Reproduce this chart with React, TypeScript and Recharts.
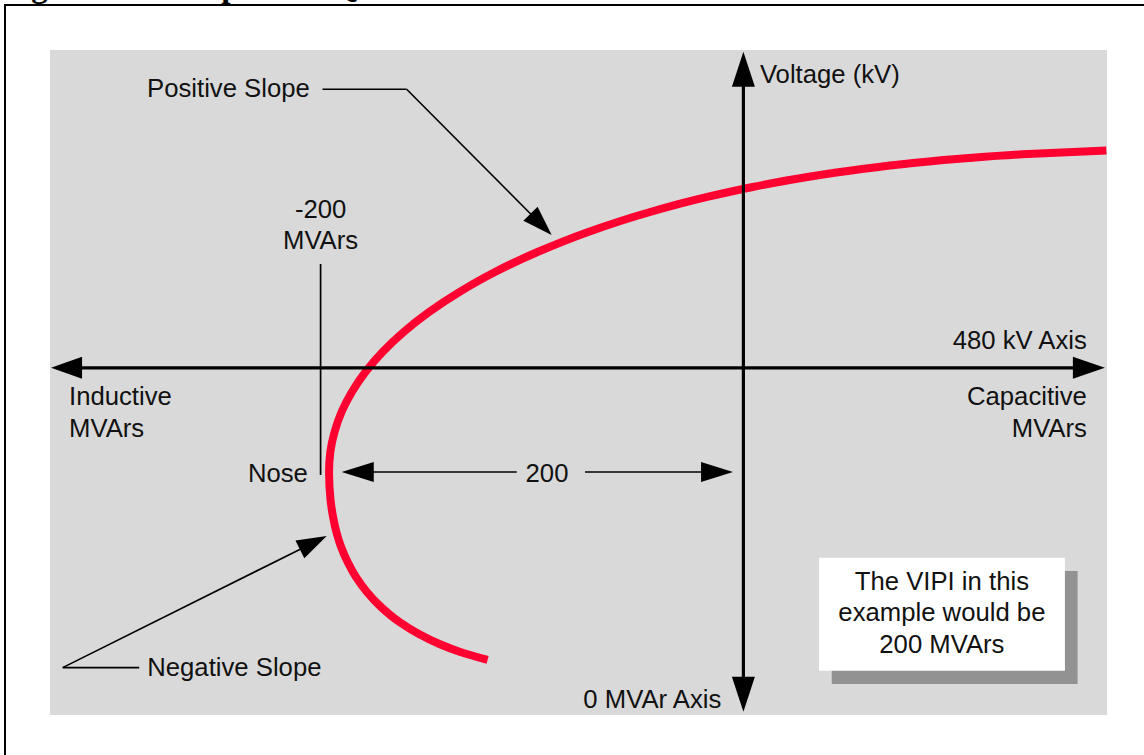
import React from 'react';
import { LineChart, Line, XAxis, YAxis, ReferenceLine, ReferenceArea, ReferenceDot } from 'recharts';

// QV curve, ordered from the upper (capacitive) end, through the nose, down to the lower end
const curveMvar = [171.7, 134.7, 106.4, 80.2, 56.1, 30.3, 4.4, -17.1, -44.1, -73.4, -97.4, -117.5, -134.4, -148.7, -160.7, -170.7, -178.8, -185.2, -190.1, -193.4, -195.4, -196.0, -195.3, -194.1, -192.4, -190.3, -187.2, -183.3, -178.1, -171.4, -162.7, -153.5, -143.8, -133.9, -121.0];
const curveKv = [643.4, 640.8, 637.8, 634.0, 629.5, 623.5, 616.0, 608.5, 597.2, 582.2, 567.1, 552.1, 537.0, 522.0, 507.0, 491.9, 476.9, 461.9, 446.8, 431.8, 416.7, 401.7, 380.7, 367.9, 355.8, 345.3, 334.0, 322.8, 311.5, 300.2, 288.9, 279.9, 272.4, 266.4, 260.4];

const mvarDomain = [-328, 172];
const kvDomain = [219, 719];
const baseKv = 480;
const noseMvar = -200;
const vipi = 200;

const data = curveMvar.map((m, i) => ({ mvar: m, kv: curveKv[i] }));

const FONT = "'Liberation Sans', Arial, Helvetica, sans-serif";

function arrowShape(sw: number, start?: [number, number], end?: [number, number]) {
  return (p: any) => {
    const { x1, y1, x2, y2 } = p;
    const dx = x2 - x1;
    const dy = y2 - y1;
    const len = Math.hypot(dx, dy) || 1;
    const ux = dx / len;
    const uy = dy / len;
    const nx = -uy;
    const ny = ux;
    let sx = x1, sy = y1, ex = x2, ey = y2;
    const heads: any[] = [];
    if (start) {
      const [L, H] = start;
      const bx = x1 + ux * L, by = y1 + uy * L;
      heads.push(<polygon key="s" points={`${x1},${y1} ${bx + nx * H},${by + ny * H} ${bx - nx * H},${by - ny * H}`} fill="#000" />);
      sx = bx - ux; sy = by - uy;
    }
    if (end) {
      const [L, H] = end;
      const bx = x2 - ux * L, by = y2 - uy * L;
      heads.push(<polygon key="e" points={`${x2},${y2} ${bx + nx * H},${by + ny * H} ${bx - nx * H},${by - ny * H}`} fill="#000" />);
      ex = bx + ux; ey = by + uy;
    }
    return (
      <g>
        <line x1={sx} y1={sy} x2={ex} y2={ey} stroke="#000" strokeWidth={sw} />
        {heads}
      </g>
    );
  };
}

function textShape(lines: string[], anchor: 'start' | 'middle' | 'end', lh = 31.5) {
  return (p: any) => (
    <text x={p.cx} y={p.cy} textAnchor={anchor} fontFamily={FONT} fontSize={25.7} fill="#111">
      {lines.map((l, i) => (
        <tspan key={i} x={p.cx} dy={i === 0 ? 0 : lh}>{l}</tspan>
      ))}
    </text>
  );
}

const captionShape = (p: any) => (
  <text x={p.cx} y={p.cy} fontFamily="'Liberation Serif', 'Times New Roman', serif" fontWeight="bold" fontSize={33} fill="#000">
    Figure 2: Example of a QV Curve
  </text>
);

export default function App() {
  return (
    <div style={{ position: 'absolute', left: 0, top: 0, width: 1144, height: 755, background: '#fff', overflow: 'hidden' }}>
      <div style={{ position: 'absolute', left: 4, top: 4, width: 1200, height: 800, borderTop: '2.5px solid #000', borderLeft: '2.5px solid #000' }} />
      <div style={{ position: 'absolute', left: 0, top: 0 }}>
        <LineChart width={1144} height={755} data={data} margin={{ top: 50, right: 37, bottom: 40, left: 50 }}>
          <XAxis type="number" dataKey="mvar" domain={mvarDomain} allowDataOverflow hide />
          <YAxis type="number" dataKey="kv" domain={kvDomain} allowDataOverflow hide />
          <ReferenceArea x1={mvarDomain[0]} x2={mvarDomain[1]} y1={kvDomain[0]} y2={kvDomain[1]} fill="#d9d9d9" fillOpacity={1} stroke="none" ifOverflow="visible" zIndex={-500} />
          <ReferenceArea x1={41.8} x2={158.1} y1={242.3} y2={327.3} fill="#929292" fillOpacity={1} stroke="none" ifOverflow="visible" zIndex={-400} />
          <ReferenceArea x1={35.8} x2={152.1} y1={252.3} y2={337.3} fill="#ffffff" fillOpacity={1} stroke="none" ifOverflow="visible" zIndex={-300} />
          <Line type="monotoneY" dataKey="kv" stroke="#ff0030" strokeWidth={8} dot={false} activeDot={false} isAnimationActive={false} zIndex={100} />

          {/* axes */}
          <ReferenceLine segment={[{ x: -327.5, y: baseKv }, { x: 171.0, y: baseKv }]} ifOverflow="visible" shape={arrowShape(3.2, [31, 11], [32, 11])} zIndex={300} />
          <ReferenceLine segment={[{ x: 0, y: 717.7 }, { x: 0, y: 221.5 }]} ifOverflow="visible" shape={arrowShape(3.2, [35, 11.5], [35, 11.5])} zIndex={300} />
          {/* -200 marker */}
          <ReferenceLine segment={[{ x: noseMvar, y: 558.1 }, { x: noseMvar, y: 399.5 }]} ifOverflow="visible" stroke="#000" strokeWidth={1.7} zIndex={300} />
          {/* dimension arrows */}
          <ReferenceLine segment={[{ x: -107.2, y: 401.7 }, { x: -190.0, y: 401.7 }]} ifOverflow="visible" shape={arrowShape(1.7, undefined, [32, 10])} zIndex={300} />
          <ReferenceLine segment={[{ x: -74.9, y: 401.7 }, { x: -4.9, y: 401.7 }]} ifOverflow="visible" shape={arrowShape(1.7, undefined, [32, 10])} zIndex={300} />
          {/* positive slope leader */}
          <ReferenceLine segment={[{ x: -199.1, y: 689.5 }, { x: -159.3, y: 689.5 }]} ifOverflow="visible" stroke="#000" strokeWidth={1.6} zIndex={300} />
          <ReferenceLine segment={[{ x: -159.3, y: 689.5 }, { x: -90.7, y: 579.9 }]} ifOverflow="visible" shape={arrowShape(1.6, undefined, [30, 10])} zIndex={300} />
          {/* negative slope leader */}
          <ReferenceLine segment={[{ x: -322.0, y: 254.6 }, { x: -285.8, y: 254.6 }]} ifOverflow="visible" stroke="#000" strokeWidth={1.6} zIndex={300} />
          <ReferenceLine segment={[{ x: -322.0, y: 254.6 }, { x: -197.1, y: 353.6 }]} ifOverflow="visible" shape={arrowShape(1.6, undefined, [30, 10])} zIndex={300} />

          {/* texts */}
          <ReferenceDot x={-350.7} y={758.8} r={0} ifOverflow="visible" shape={captionShape} zIndex={400} />
          <ReferenceDot x={-282.1} y={683.7} r={0} ifOverflow="visible" shape={textShape(['Positive Slope'], 'start')} zIndex={400} />
          <ReferenceDot x={-282.0} y={248.3} r={0} ifOverflow="visible" shape={textShape(['Negative Slope'], 'start')} zIndex={400} />
          <ReferenceDot x={7.8} y={694.4} r={0} ifOverflow="visible" shape={textShape(['Voltage (kV)'], 'start')} zIndex={400} />
          <ReferenceDot x={162.5} y={494.0} r={0} ifOverflow="visible" shape={textShape([`${baseKv} kV Axis`], 'end')} zIndex={400} />
          <ReferenceDot x={162.5} y={452.3} r={0} ifOverflow="visible" shape={textShape(['Capacitive', 'MVArs'], 'end', 32)} zIndex={400} />
          <ReferenceDot x={-319.0} y={452.3} r={0} ifOverflow="visible" shape={textShape(['Inductive', 'MVArs'], 'start', 32)} zIndex={400} />
          <ReferenceDot x={noseMvar} y={592.7} r={0} ifOverflow="visible" shape={textShape([`${noseMvar}`, 'MVArs'], 'middle', 31)} zIndex={400} />
          <ReferenceDot x={-206.0} y={394.4} r={0} ifOverflow="visible" shape={textShape(['Nose'], 'end')} zIndex={400} />
          <ReferenceDot x={-92.9} y={394.4} r={0} ifOverflow="visible" shape={textShape([`${vipi}`], 'middle')} zIndex={400} />
          <ReferenceDot x={-75.7} y={224.5} r={0} ifOverflow="visible" shape={textShape(['0 MVAr Axis'], 'start')} zIndex={400} />
          <ReferenceDot x={93.9} y={313.0} r={0} ifOverflow="visible" shape={textShape(['The VIPI in this', 'example would be', `${vipi} MVArs`], 'middle', 31.3)} zIndex={400} />
        </LineChart>
      </div>
    </div>
  );
}
